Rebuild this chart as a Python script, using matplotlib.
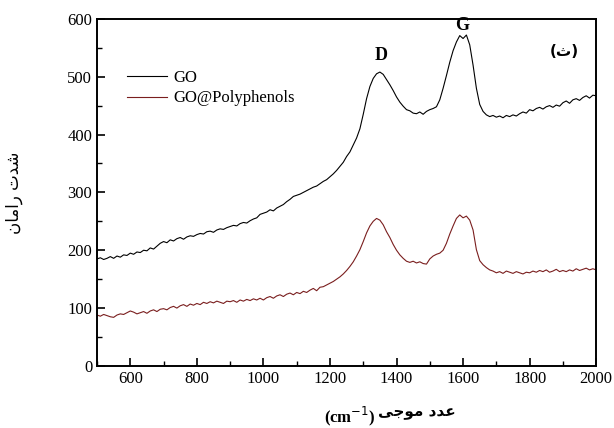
import numpy as np
import matplotlib
matplotlib.use("Agg")
import matplotlib.pyplot as plt
from matplotlib.ticker import MultipleLocator

plt.rcParams['font.family'] = ['Liberation Serif', 'DejaVu Sans']

# Raman shift grid (cm-1)
wavenumber = np.arange(500, 2001, 10)

go = [
    185, 187, 184, 186, 189, 186, 190, 188, 192, 191,
    195, 193, 197, 196, 200, 199, 204, 202, 207, 212,
    215, 213, 218, 216, 220, 222, 219, 223, 225, 224,
    227, 229, 228, 232, 233, 231, 235, 237, 236, 239,
    241, 243, 242, 246, 248, 247, 251, 254, 256, 262,
    264, 266, 270, 268, 273, 276, 279, 284, 288, 293,
    295, 297, 300, 303, 306, 309, 311, 315, 319, 322,
    327, 332, 338, 345, 352, 362, 370, 382, 394, 410,
    435, 462, 483, 497, 505, 508, 504, 495, 486, 476,
    465, 456, 449, 443, 441, 437, 436, 439, 435, 440,
    443, 445, 448, 460, 480, 502, 525, 545, 560, 571,
    566, 572, 555, 520, 480, 452, 440, 434, 431, 433,
    430, 432, 429, 433, 431, 434, 432, 436, 439, 437,
    443, 441, 445, 447, 444, 448, 450, 447, 451, 449,
    455, 458, 454, 460, 462, 459, 464, 467, 463, 468,
    467,
]

go_polyphenols = [
    88, 86, 89, 87, 85, 84, 88, 90, 89, 92,
    95, 93, 90, 92, 94, 91, 95, 97, 94, 98,
    99, 97, 101, 103, 100, 104, 106, 103, 107, 105,
    108, 106, 110, 108, 111, 109, 112, 110, 108, 112,
    111, 113, 110, 114, 112, 115, 113, 116, 114, 117,
    114, 118, 120, 117, 121, 123, 120, 124, 126, 123,
    127, 125, 129, 127, 131, 134, 130, 136, 137, 140,
    143, 146, 150, 154, 159, 165, 172, 180, 190, 201,
    215, 230, 242, 250, 255, 252, 244, 232, 222, 210,
    200, 192, 186, 181, 179, 181, 178, 180, 177, 176,
    185, 190, 193, 195, 200, 212, 228, 242, 255, 261,
    256, 259, 252, 235, 201, 182, 175, 170, 166, 164,
    161, 163, 160, 164, 162, 160, 163, 161, 159, 162,
    161, 164, 162, 165, 163, 166, 162, 164, 167, 163,
    165, 163, 166, 164, 168, 165, 167, 169, 166, 168,
    166,
]

# Persian labels, written in shaped presentation forms in visual order
y_label = "\uFEE5\uFE8E\uFEE3\uFE8D\uFEAD \uFE95\uFEAA\uFEB7"      # شدت رامان
x_label = "\uFEF0\uFE9F\uFEEE\uFEE3 \uFEA9\uFEAA\uFECB"           # عدد موجی
panel_tag = "(\uFE99)"                                             # (ث)

fig = plt.figure(figsize=(6.14, 4.28), dpi=100)
ax = fig.add_axes([0.158, 0.145, 0.813, 0.811])

ax.plot(wavenumber, go, color='black', lw=0.8, label='GO')
ax.plot(wavenumber, go_polyphenols, color='#7a1e1e', lw=0.8, label='GO@Polyphenols')

ax.set_xlim(500, 2000)
ax.set_ylim(0, 600)
ax.xaxis.set_major_locator(MultipleLocator(200))
ax.xaxis.set_minor_locator(MultipleLocator(100))
ax.yaxis.set_major_locator(MultipleLocator(100))
ax.yaxis.set_minor_locator(MultipleLocator(50))
ax.tick_params(which='major', direction='in', length=6, width=1.2, labelsize=12)
ax.tick_params(which='minor', direction='in', length=3.5, width=1.0)
ax.tick_params(top=False, right=False, which='both')
for s in ax.spines.values():
    s.set_linewidth(1.4)

ax.text(1354, 522, 'D', fontsize=13, fontweight='bold', ha='center', va='bottom')
ax.text(1597, 574, 'G', fontsize=13, fontweight='bold', ha='center', va='bottom')
ax.text(1905, 543, panel_tag, family=['DejaVu Sans'], fontsize=11, fontweight='bold',
        ha='center', va='center')

ax.legend(loc='upper left', bbox_to_anchor=(0.03, 0.895), frameon=False,
          fontsize=12, handlelength=2.4, handletextpad=0.4, labelspacing=0.25)

fig.text(0.022, 0.549, y_label, family=['DejaVu Sans'], fontsize=12,
         rotation=90, ha='center', va='center')
fig.text(0.615, 0.036, x_label, family=['DejaVu Sans'], fontsize=11,
         fontweight='bold', ha='left', va='center')
fig.text(0.611, 0.027, '(cm$^{-1}$)', fontsize=12, fontweight='bold',
         ha='right', va='center')

fig.savefig('out.png', dpi=100)
